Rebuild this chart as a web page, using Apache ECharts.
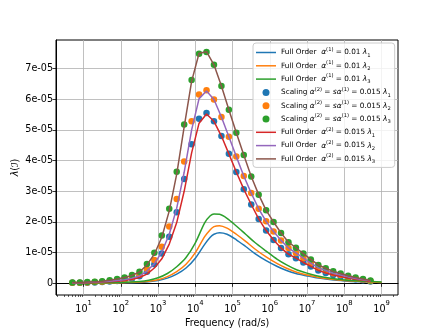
<!DOCTYPE html>
<html>
<head>
<meta charset="utf-8">
<script src="https://cdn.jsdelivr.net/npm/echarts@6/dist/echarts.min.js"></script>
<style>
  html, body { margin: 0; padding: 0; background: #fff; }
  #chart { width: 443px; height: 332px; }
</style>
</head>
<body>
<div id="chart"></div>
<script>
// log10 of the sampled frequencies (rad/s)
const dotExp = [0.7, 0.9, 1.1, 1.3, 1.5, 1.7, 1.9, 2.1, 2.3, 2.5, 2.7, 2.9, 3.1, 3.3, 3.5, 3.7, 3.9, 4.1, 4.3, 4.5,
  4.7, 4.9, 5.1, 5.3, 5.5, 5.7, 5.9, 6.1, 6.3, 6.5, 6.7, 6.9, 7.1, 7.3, 7.5, 7.7, 7.9, 8.1, 8.3, 8.5, 8.7];
const lowExp = [0.7, 1, 1.5, 2, 2.5, 2.75, 3, 3.25, 3.5, 3.75, 4, 4.25, 4.4, 4.5, 4.65, 4.85, 5.1, 5.35, 5.6, 5.9,
  6.2, 6.45, 6.7, 7, 7.25, 7.5, 8, 8.5, 9];

// values in units of 1e-05
// Full Order alpha(1) = 0.01
const full1L1 = [0.00, 0.01, 0.01, 0.02, 0.03, 0.05, 0.09, 0.17, 0.30, 0.50, 0.82, 1.27, 1.50, 1.60, 1.65, 1.60, 1.42, 1.20, 0.97, 0.74,
  0.55, 0.42, 0.32, 0.24, 0.18, 0.14, 0.08, 0.05, 0.03];
const full1L2 = [0.01, 0.01, 0.01, 0.02, 0.04, 0.07, 0.12, 0.22, 0.38, 0.62, 1.00, 1.52, 1.75, 1.85, 1.88, 1.80, 1.60, 1.37, 1.12, 0.86,
  0.64, 0.49, 0.37, 0.27, 0.21, 0.16, 0.09, 0.06, 0.03];
const full1L3 = [0.01, 0.01, 0.02, 0.03, 0.06, 0.10, 0.18, 0.32, 0.54, 0.84, 1.32, 1.97, 2.20, 2.26, 2.25, 2.12, 1.87, 1.60, 1.33, 1.05,
  0.78, 0.60, 0.45, 0.33, 0.25, 0.19, 0.11, 0.07, 0.04];

// Scaling alpha(2) = s alpha(1) = 0.015
const scaleL1 = [0.02, 0.02, 0.02, 0.03, 0.04, 0.06, 0.08, 0.11, 0.16, 0.23, 0.38, 0.62, 0.97, 1.52, 2.32, 3.40, 4.53, 5.36, 5.55, 5.28,
  4.80, 4.22, 3.63, 3.07, 2.57, 2.10, 1.72, 1.41, 1.15, 0.95, 0.82, 0.68, 0.55, 0.42, 0.34, 0.27, 0.22, 0.17, 0.13, 0.10, 0.06];
const scaleL2 = [0.02, 0.02, 0.03, 0.04, 0.05, 0.08, 0.10, 0.14, 0.20, 0.28, 0.47, 0.76, 1.19, 1.85, 2.75, 3.97, 5.28, 6.15, 6.29, 5.99,
  5.42, 4.78, 4.13, 3.50, 2.94, 2.43, 2.02, 1.69, 1.40, 1.15, 0.99, 0.82, 0.66, 0.51, 0.42, 0.33, 0.27, 0.21, 0.16, 0.12, 0.08];
const scaleL3 = [0.03, 0.03, 0.04, 0.05, 0.07, 0.10, 0.14, 0.19, 0.27, 0.38, 0.63, 1.00, 1.56, 2.43, 3.64, 5.18, 6.63, 7.48, 7.54, 7.12,
  6.43, 5.66, 4.91, 4.18, 3.48, 2.89, 2.38, 2.00, 1.64, 1.34, 1.16, 0.97, 0.78, 0.60, 0.49, 0.39, 0.32, 0.25, 0.19, 0.14, 0.09];

// Full Order alpha(2) = 0.015
const full2L1 = [0.02, 0.02, 0.02, 0.03, 0.04, 0.05, 0.07, 0.09, 0.13, 0.19, 0.30, 0.50, 0.80, 1.28, 1.98, 3.00, 4.25, 5.22, 5.52, 5.28,
  4.80, 4.22, 3.63, 3.07, 2.57, 2.10, 1.72, 1.41, 1.15, 0.95, 0.82, 0.68, 0.55, 0.42, 0.34, 0.27, 0.22, 0.17, 0.13, 0.10, 0.06];
const full2L2 = [0.02, 0.02, 0.03, 0.04, 0.05, 0.07, 0.09, 0.12, 0.17, 0.24, 0.40, 0.64, 1.02, 1.60, 2.45, 3.62, 5.00, 6.02, 6.27, 5.99,
  5.42, 4.78, 4.13, 3.50, 2.94, 2.43, 2.02, 1.69, 1.40, 1.15, 0.99, 0.82, 0.66, 0.51, 0.42, 0.33, 0.27, 0.21, 0.16, 0.12, 0.08];
const full2L3 = [0.03, 0.03, 0.04, 0.05, 0.07, 0.10, 0.14, 0.19, 0.26, 0.37, 0.60, 0.95, 1.50, 2.36, 3.56, 5.10, 6.58, 7.50, 7.55, 7.12,
  6.43, 5.66, 4.91, 4.18, 3.48, 2.89, 2.38, 2.00, 1.64, 1.34, 1.16, 0.97, 0.78, 0.60, 0.49, 0.39, 0.32, 0.25, 0.19, 0.14, 0.09];

// axis ticks
const xMajorExp = [1, 2, 3, 4, 5, 6, 7, 8, 9];
const yTicks = [0, 1, 2, 3, 4, 5, 6, 7];

const xMajor = xMajorExp.map(e => Math.pow(10, e));
const xMinor = [];
for (let e = 0; e <= 9; e++) {
  for (let m = 2; m <= 9; m++) {
    const v = m * Math.pow(10, e);
    if (v > 1.82 && v < 2.75e9) xMinor.push(v);
  }
}

const toPairs = (exps, vals) => exps.map((e, i) => [Math.pow(10, e), vals[i]]);

const C = ['#1f77b4', '#ff7f0e', '#2ca02c', '#d62728', '#9467bd', '#8c564b'];

const legendText = {
  f1l1: '{t|Full Order  }{i|α}{sup|(1)}{t| = 0.01 }{i|λ}{sub|1}',
  f1l2: '{t|Full Order  }{i|α}{sup|(1)}{t| = 0.01 }{i|λ}{sub|2}',
  f1l3: '{t|Full Order  }{i|α}{sup|(1)}{t| = 0.01 }{i|λ}{sub|3}',
  s1: '{t|Scaling }{i|α}{sup|(2)}{t| = }{i|sα}{sup|(1)}{t| = 0.015 }{i|λ}{sub|1}',
  s2: '{t|Scaling }{i|α}{sup|(2)}{t| = }{i|sα}{sup|(1)}{t| = 0.015 }{i|λ}{sub|2}',
  s3: '{t|Scaling }{i|α}{sup|(2)}{t| = }{i|sα}{sup|(1)}{t| = 0.015 }{i|λ}{sub|3}',
  f2l1: '{t|Full Order  }{i|α}{sup|(2)}{t| = 0.015 }{i|λ}{sub|1}',
  f2l2: '{t|Full Order  }{i|α}{sup|(2)}{t| = 0.015 }{i|λ}{sub|2}',
  f2l3: '{t|Full Order  }{i|α}{sup|(2)}{t| = 0.015 }{i|λ}{sub|3}'
};
const lineIcon = 'path://M0,0L20,0L20,1.5L0,1.5Z';

function lineSeries(name, exps, vals, color, smooth) {
  return {
    name: name, type: 'line', xAxisIndex: 0,
    data: toPairs(exps, vals),
    symbol: 'none', smooth: smooth ? 0.3 : false,
    lineStyle: { color: color, width: 1.5 },
    itemStyle: { color: color }
  };
}
function dotSeries(name, vals, color) {
  return {
    name: name, type: 'scatter', xAxisIndex: 0,
    data: toPairs(dotExp, vals),
    symbol: 'circle', symbolSize: 6.5,
    itemStyle: { color: color, opacity: 1 }
  };
}

const font = 'DejaVu Sans';
const chart = echarts.init(document.getElementById('chart'));
chart.setOption({
  animation: false,
  backgroundColor: '#fff',
  textStyle: { fontFamily: font },
  grid: {
    left: 56, right: 45, top: 40, bottom: 37,
    show: true, borderColor: '#000', borderWidth: 1,
    outerBoundsMode: 'none'
  },
  legend: {
    orient: 'vertical', left: 253, top: 43,
    padding: [4, 4, 3, 3],
    itemWidth: 20, itemHeight: 7, itemGap: 2.3,
    backgroundColor: 'rgba(255,255,255,0.8)',
    borderColor: '#cccccc', borderWidth: 1, borderRadius: 3,
    formatter: name => legendText[name],
    textStyle: {
      fontFamily: font, color: '#000',
      rich: {
        t: { fontSize: 7.3, lineHeight: 11, fontFamily: font, color: '#000' },
        i: { fontSize: 7.5, lineHeight: 11, fontStyle: 'italic', fontFamily: font, color: '#000' },
        sup: { fontSize: 5.2, lineHeight: 6, verticalAlign: 'top', fontFamily: font, color: '#000' },
        sub: { fontSize: 5.2, lineHeight: 6, verticalAlign: 'bottom', fontFamily: font, color: '#000' }
      }
    },
    data: [
      { name: 'f1l1', icon: lineIcon }, { name: 'f1l2', icon: lineIcon }, { name: 'f1l3', icon: lineIcon },
      { name: 's1', icon: 'circle' }, { name: 's2', icon: 'circle' }, { name: 's3', icon: 'circle' },
      { name: 'f2l1', icon: lineIcon }, { name: 'f2l2', icon: lineIcon }, { name: 'f2l3', icon: lineIcon }
    ]
  },
  xAxis: [{
    type: 'log', logBase: 10, min: 1.82, max: 2.75e9,
    name: 'Frequency (rad/s)', nameLocation: 'middle', nameGap: 21,
    nameTextStyle: { fontSize: 9.6, color: '#000', fontFamily: font },
    axisLine: { lineStyle: { color: '#000', width: 1 } },
    axisTick: { customValues: xMajor, length: 3.5, lineStyle: { color: '#000', width: 0.8 } },
    axisLabel: {
      customValues: xMajor, margin: 5, color: '#000',
      formatter: v => '{b|10}{s|' + Math.round(Math.log10(v)) + '}',
      rich: {
        b: { fontSize: 9.6, lineHeight: 14, verticalAlign: 'bottom', fontFamily: font, color: '#000' },
        s: { fontSize: 6.8, lineHeight: 8, verticalAlign: 'top', fontFamily: font, color: '#000' }
      }
    },
    splitLine: { show: true, lineStyle: { color: '#b0b0b0', width: 0.8 } }
  }, {
    type: 'log', logBase: 10, min: 1.82, max: 2.75e9, position: 'bottom',
    axisLine: { show: false },
    axisTick: { customValues: xMinor, length: 2, lineStyle: { color: '#000', width: 0.6 } },
    axisLabel: { show: false },
    splitLine: { show: false }
  }],
  yAxis: {
    type: 'value', min: -0.38, max: 7.93,
    name: '{i|λ}{n|(}{c|ℐ}{n|)}', nameLocation: 'middle', nameGap: 36, nameRotate: 90,
    nameMoveOverlap: false,
    nameTextStyle: {
      rich: {
        i: { fontSize: 9.6, fontStyle: 'italic', fontFamily: font, color: '#000' },
        n: { fontSize: 9.6, fontFamily: font, color: '#000' },
        c: { fontSize: 9.6, fontStyle: 'italic', fontFamily: font, color: '#000' }
      }
    },
    axisLine: { show: true, lineStyle: { color: '#000', width: 1 } },
    axisTick: { show: true, customValues: yTicks, length: 3.5, lineStyle: { color: '#000', width: 0.8 } },
    axisLabel: {
      customValues: yTicks, margin: 3, fontSize: 9.6, color: '#000', fontFamily: font,
      formatter: v => (v === 0 ? '0' : v + 'e-05')
    },
    splitLine: { show: true, lineStyle: { color: '#b0b0b0', width: 0.8 } }
  },
  series: [
    lineSeries('f1l1', lowExp, full1L1, C[0], true),
    lineSeries('f1l2', lowExp, full1L2, C[1], true),
    lineSeries('f1l3', lowExp, full1L3, C[2], true),
    dotSeries('s1', scaleL1, C[0]),
    dotSeries('s2', scaleL2, C[1]),
    dotSeries('s3', scaleL3, C[2]),
    lineSeries('f2l1', dotExp, full2L1, C[3], false),
    lineSeries('f2l2', dotExp, full2L2, C[4], false),
    lineSeries('f2l3', dotExp, full2L3, C[5], false)
  ]
});
</script>
</body>
</html>
